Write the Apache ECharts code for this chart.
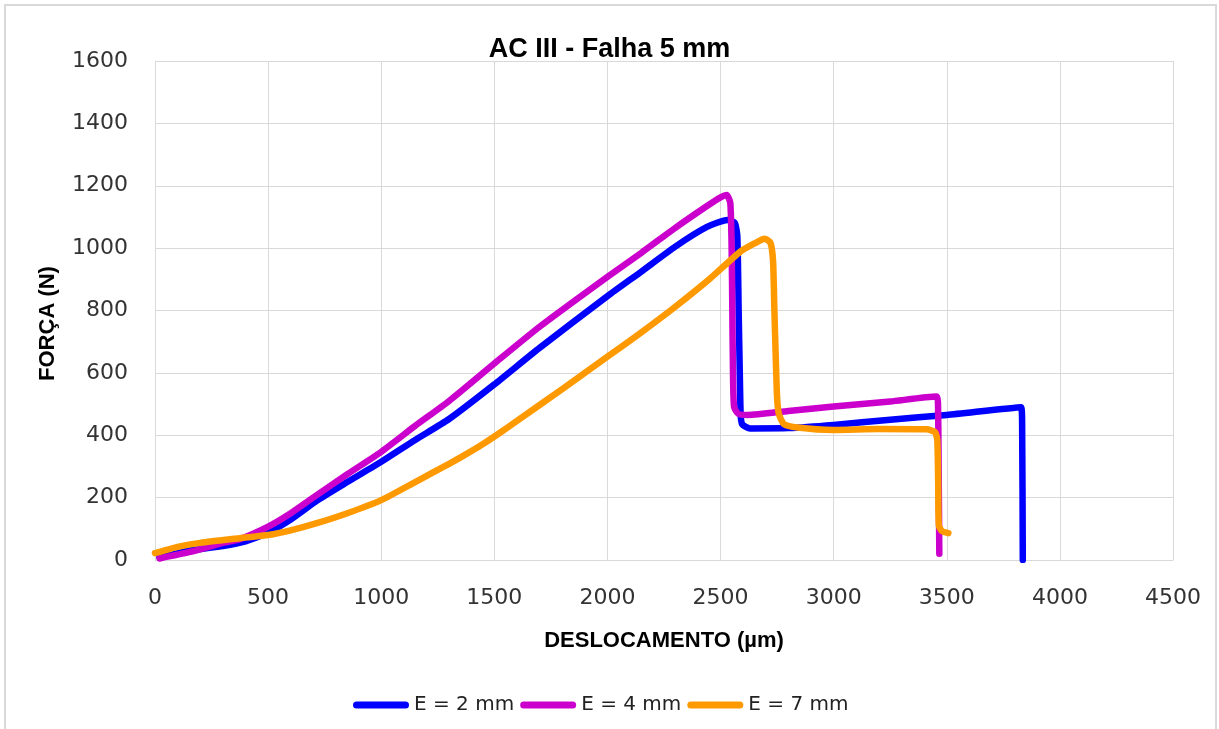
<!DOCTYPE html>
<html>
<head>
<meta charset="utf-8">
<script src="https://cdn.jsdelivr.net/npm/echarts@6/dist/echarts.min.js"></script>
<style>
  html, body { margin: 0; padding: 0; background: #ffffff; }
  #chart { width: 1219px; height: 729px; }
</style>
</head>
<body>
<div id="chart"></div>
<script>
// Force vs. displacement curves, AC III with a 5 mm flaw
const chartTitle = 'AC III - Falha 5 mm';
const xAxisTitle = 'DESLOCAMENTO (µm)';
const yAxisTitle = 'FORÇA (N)';
const seriesNames = ['E = 2 mm', 'E = 4 mm', 'E = 7 mm'];

// E = 2 mm
const e2Disp = [20, 150, 300, 400, 500, 600, 715, 850, 1000, 1150, 1300, 1500, 1700, 2000, 2150, 2300, 2440, 2530, 2562, 2574, 2580, 2585, 2589, 2596, 2630, 2800, 3000, 3250, 3500, 3828, 3833, 3836];
const e2Force = [8, 30, 45, 60, 88, 130, 190, 250, 315, 385, 452, 563, 680, 846, 925, 1005, 1068, 1090, 1082, 1040, 800, 600, 465, 435, 422, 423, 433, 450, 465, 490, 440, 0];

// E = 4 mm
const e4Disp = [20, 150, 300, 375, 500, 600, 715, 850, 1000, 1150, 1300, 1500, 1700, 2000, 2150, 2300, 2440, 2500, 2527, 2543, 2549, 2552, 2555, 2560, 2580, 2620, 2800, 3000, 3250, 3455, 3461, 3464, 3467];
const e4Force = [5, 25, 55, 67, 107, 150, 208, 275, 347, 430, 510, 630, 748, 908, 985, 1065, 1135, 1163, 1170, 1145, 1000, 800, 600, 490, 468, 465, 478, 492, 508, 524, 505, 300, 20];

// E = 7 mm
const e7Disp = [0, 25, 100, 200, 375, 500, 600, 715, 850, 1000, 1150, 1304, 1370, 1450, 1525, 1600, 1800, 2000, 2150, 2300, 2450, 2586, 2650, 2695, 2720, 2732, 2738, 2744, 2750, 2758, 2780, 2840, 3000, 3200, 3411, 3448, 3458, 3462, 3465, 3480, 3507];
const e7Force = [22, 27, 42, 55, 70, 80, 95, 118, 150, 192, 250, 310, 337, 372, 408, 446, 548, 652, 730, 812, 900, 988, 1015, 1030, 1018, 960, 800, 650, 520, 468, 436, 425, 417, 420, 419, 410, 385, 250, 110, 92, 86];

const seriesColors = ['#0000ff', '#cc00cc', '#ff9900'];

const zip = (xs, ys) => xs.map((x, i) => [x, ys[i]]);
const curves = [zip(e2Disp, e2Force), zip(e4Disp, e4Force), zip(e7Disp, e7Force)];

const tickFont = '"DejaVu Sans", Verdana, sans-serif';
const boldFont = '"Liberation Sans", Arial, sans-serif';
const capsule = 'path://M3.5,0 L52.5,0 A3.5,3.5 0 0 1 52.5,7 L3.5,7 A3.5,3.5 0 0 1 3.5,0 Z';

const chart = echarts.init(document.getElementById('chart'), null, { renderer: 'canvas' });

chart.setOption({
  backgroundColor: '#ffffff',
  animation: false,
  graphic: [{
    type: 'rect',
    shape: { x: 5, y: 5, width: 1211, height: 740 },
    style: { fill: 'none', stroke: '#d9d9d9', lineWidth: 2 },
    silent: true
  }],
  title: {
    text: chartTitle,
    left: 'center',
    top: 31,
    textStyle: { fontFamily: boldFont, fontWeight: 'bold', fontSize: 27, color: '#000000' }
  },
  legend: {
    data: seriesNames.map(name => ({ name, icon: capsule })),
    left: 348,
    top: 690,
    itemWidth: 56,
    itemHeight: 7,
    itemGap: 6,
    textStyle: { fontFamily: tickFont, fontSize: 20, color: '#222222' }
  },
  grid: { left: 155, right: 46, top: 61, bottom: 169, containLabel: false },
  xAxis: {
    type: 'value',
    min: 0, max: 4500, interval: 500,
    name: xAxisTitle,
    nameLocation: 'middle',
    nameGap: 70,
    nameTextStyle: { fontFamily: boldFont, fontWeight: 'bold', fontSize: 22, color: '#000000' },
    axisLine: { show: true, lineStyle: { color: '#d9d9d9', width: 1 } },
    axisTick: { show: false },
    axisLabel: { fontFamily: tickFont, fontSize: 22, color: '#333333', margin: 27, formatter: v => String(v) },
    splitLine: { show: true, lineStyle: { color: '#d9d9d9', width: 1 } }
  },
  yAxis: {
    type: 'value',
    min: 0, max: 1600, interval: 200,
    name: yAxisTitle,
    nameLocation: 'middle',
    nameGap: 96,
    nameTextStyle: { fontFamily: boldFont, fontWeight: 'bold', fontSize: 22, color: '#000000', padding: [0, 26, 0, 0] },
    axisLine: { show: true, lineStyle: { color: '#d9d9d9', width: 1 } },
    axisTick: { show: false },
    axisLabel: { fontFamily: tickFont, fontSize: 22, color: '#333333', margin: 27, formatter: v => String(v) },
    splitLine: { show: true, lineStyle: { color: '#d9d9d9', width: 1 } }
  },
  series: seriesNames.map((name, i) => ({
    name,
    type: 'line',
    data: curves[i],
    symbol: 'none',
    smooth: 0.2,
    color: seriesColors[i],
    lineStyle: { color: seriesColors[i], width: 6.5, cap: 'round', join: 'round' },
    itemStyle: { color: seriesColors[i] }
  }))
});
</script>
</body>
</html>
